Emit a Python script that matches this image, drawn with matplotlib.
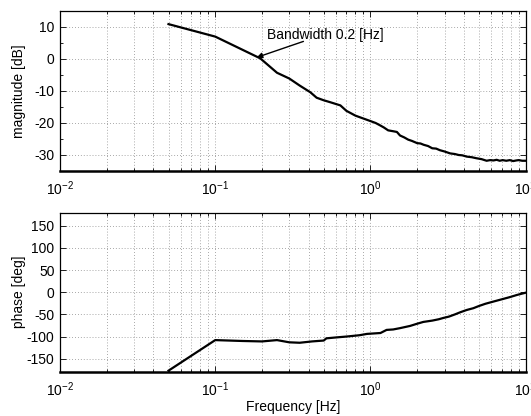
import matplotlib
matplotlib.use("Agg")
import matplotlib.pyplot as plt
from matplotlib.ticker import LogLocator, NullFormatter, FixedLocator

plt.rcParams['font.family'] = ['Liberation Sans', 'DejaVu Sans']
plt.rcParams['mathtext.fontset'] = 'custom'
plt.rcParams['mathtext.rm'] = 'Liberation Sans'
plt.rcParams['mathtext.it'] = 'Liberation Sans:italic'
plt.rcParams['axes.unicode_minus'] = False

# ---- data ----
mag_freq = [0.05, 0.1, 0.195, 0.25, 0.30, 0.35, 0.41, 0.45, 0.50, 0.55, 0.64, 0.70,
            0.80, 0.90, 1.0, 1.08, 1.16, 1.22, 1.3, 1.41, 1.48, 1.55, 1.65, 1.75, 1.85,
            2.0, 2.1, 2.2, 2.35, 2.5, 2.65, 2.8, 3.0, 3.26, 3.5, 3.7, 3.9, 4.17, 4.5,
            4.8, 5.2, 5.6, 5.9, 6.2, 6.5, 6.8, 7.1, 7.5, 7.9, 8.3, 8.7, 9.0, 9.5, 10.0]
mag_db = [10.9, 7.0, 0.2, -4.3, -6.1, -8.3, -10.4, -12.1, -12.9, -13.5, -14.5, -16.2,
          -17.7, -18.6, -19.4, -20.0, -20.8, -21.4, -22.3, -22.6, -22.8, -23.9, -24.5, -25.2, -25.6,
          -26.3, -26.4, -26.8, -27.2, -27.9, -28.0, -28.5, -28.9, -29.5, -29.7, -30.0, -30.1, -30.5, -30.7,
          -31.0, -31.3, -31.8, -31.6, -31.7, -31.5, -31.8, -31.6, -31.8, -31.6, -31.9, -31.7, -31.6, -31.8, -31.8]

ph_freq = [0.05, 0.1, 0.15, 0.2, 0.25, 0.30, 0.35, 0.42, 0.50, 0.52, 0.60, 0.70,
           0.85, 0.95, 1.05, 1.16, 1.27, 1.4, 1.55, 1.8, 2.0, 2.19, 2.5, 2.75, 2.95,
           3.2, 3.5, 3.8, 4.17, 4.6, 5.0, 5.5, 6.2, 7.0, 7.9, 8.8, 10.0]
ph_deg = [-177, -108, -110, -111, -108, -113, -114, -111, -109, -104, -102, -100,
          -97, -94, -93, -92, -85, -84, -81, -76, -71, -67, -64, -61, -58,
          -55, -50, -45, -40, -36, -31, -26, -21, -16, -11, -6, -1]

annot_text = "Bandwidth 0.2 [Hz]"
mag_ticks = [-30, -20, -10, 0, 10]
mag_minor = [-35, -25, -15, -5, 5, 15]
ph_ticks = [-150, -100, -50, 0, 50, 100, 150]

FS = 10
W, H = 531, 416
fig = plt.figure(figsize=(W / 100, H / 100), dpi=100)

ax1 = fig.add_axes([60 / W, 1 - 171 / H, 465.7 / W, 160 / H])
ax2 = fig.add_axes([60 / W, 1 - 372 / H, 465.7 / W, 159.5 / H])

grid_kw = dict(color='#8c8c8c', linestyle=(0, (1, 2.5)), linewidth=0.6)

for ax in (ax1, ax2):
    ax.set_xscale('log')
    ax.set_xlim(1e-2, 1e1)
    ax.xaxis.set_major_locator(LogLocator(base=10, numticks=10))
    ax.xaxis.set_minor_locator(LogLocator(base=10, subs=range(2, 10), numticks=100))
    ax.xaxis.set_minor_formatter(NullFormatter())
    ax.tick_params(which='both', direction='in', top=True, right=True,
                   labelsize=FS, colors='black')
    ax.tick_params(axis='x', which='major', pad=6)
    ax.tick_params(axis='y', which='major', pad=4)
    ax.tick_params(which='major', length=4, width=0.6)
    ax.tick_params(which='minor', length=2.5, width=0.6)
    ax.grid(True, which='major', axis='both', **grid_kw)
    ax.grid(True, which='minor', axis='x', **grid_kw)
    ax.set_axisbelow(True)
    for s in ax.spines.values():
        s.set_linewidth(0.9)
    ax.spines['bottom'].set_linewidth(1.8)

ax1.plot(mag_freq, mag_db, color='black', linewidth=1.6)
ax1.set_ylim(-35, 15)
ax1.yaxis.set_major_locator(FixedLocator(mag_ticks))
ax1.yaxis.set_minor_locator(FixedLocator(mag_minor))
ax1.set_ylabel('magnitude [dB]', fontsize=FS)
ax1.yaxis.set_label_coords(-0.074, 0.5)
ax1.annotate('', xy=(0.185, 0.5), xytext=(0.37, 5.5),
             arrowprops=dict(arrowstyle='-|>', color='black', lw=1.0,
                             mutation_scale=8, shrinkA=0, shrinkB=0))
ax1.text(0.215, 7.6, annot_text, fontsize=FS, ha='left', va='center')

ax2.plot(ph_freq, ph_deg, color='black', linewidth=1.6)
ax2.set_ylim(-180, 180)
ax2.yaxis.set_major_locator(FixedLocator(ph_ticks))
ax2.set_ylabel('phase [deg]', fontsize=FS)
ax2.yaxis.set_label_coords(-0.074, 0.5)
ax2.set_xlabel('Frequency [Hz]', fontsize=FS, labelpad=1)

fig.savefig('out.png', dpi=100)
